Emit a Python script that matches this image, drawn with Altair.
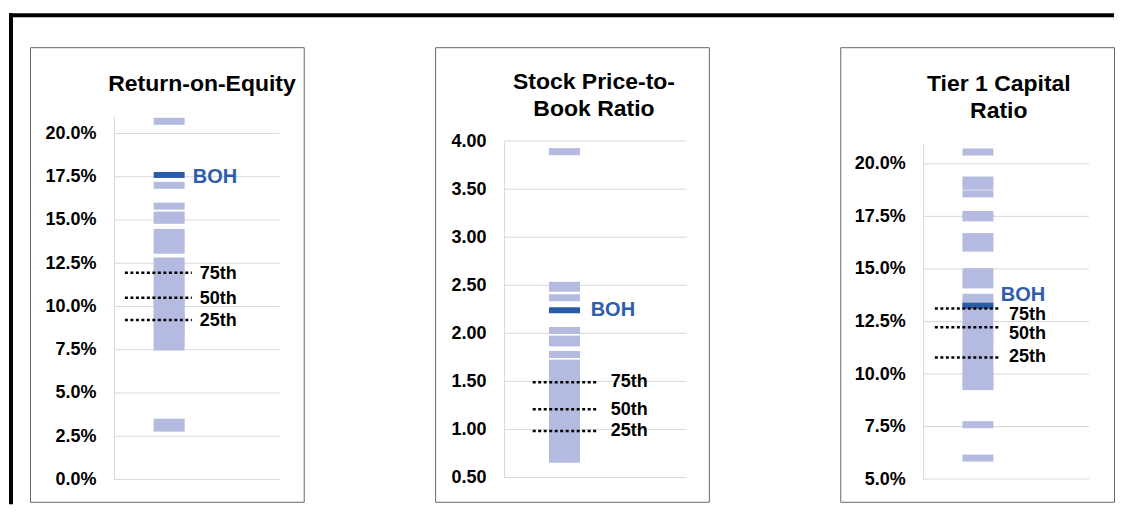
import altair as alt
import pandas as pd

FONT = "Liberation Sans"
LIGHT = "#b4bae0"
DARK = "#2a5ba8"
BOH_TXT = "#2e5eab"
GRID = "#d9d9d9"
BOX = "#666666"

# ---------------- data ----------------
pct_labels = ["75th", "50th", "25th"]

roe_title = "Return-on-Equity"
roe_ticks = [0.0, 0.025, 0.05, 0.075, 0.10, 0.125, 0.15, 0.175, 0.20]
roe_peers = [0.207, 0.170, 0.158, 0.1528, 0.1498, 0.1428, 0.1395, 0.136, 0.1325,
             0.1263, 0.123, 0.1195, 0.117, 0.114, 0.111, 0.108, 0.105, 0.103, 0.101,
             0.0985, 0.096, 0.094, 0.092, 0.090, 0.0875, 0.085, 0.082, 0.0795, 0.0766,
             0.0331, 0.0297]
roe_boh = 0.176
roe_pct = [0.1195, 0.1051, 0.0922]

pb_title = "Stock Price-to-\nBook Ratio"
pb_ticks = [0.5, 1.0, 1.5, 2.0, 2.5, 3.0, 3.5, 4.0]
pb_peers = [3.89, 2.50, 2.47, 2.37, 2.03, 1.94, 1.90, 1.78, 1.69, 1.63, 1.58, 1.54,
            1.49, 1.45, 1.40, 1.35, 1.30, 1.26, 1.21, 1.17, 1.13, 1.08, 1.04, 0.99,
            0.95, 0.90, 0.85, 0.80, 0.75, 0.69]
pb_boh = 2.24
pb_pct = [1.49, 1.21, 0.985]

t1_title = "Tier 1 Capital\nRatio"
t1_ticks = [0.05, 0.075, 0.10, 0.125, 0.15, 0.175, 0.20]
t1_peers = [0.2056, 0.1923, 0.1893, 0.1857, 0.1759, 0.1743, 0.1654, 0.1627, 0.1599,
            0.1487, 0.1455, 0.1424, 0.1365, 0.134, 0.131, 0.128, 0.125, 0.122, 0.119,
            0.116, 0.113, 0.110, 0.107, 0.104, 0.101, 0.098, 0.096, 0.094, 0.0759,
            0.060]
t1_boh = 0.1325
t1_pct = [0.1312, 0.1222, 0.1079]

# ---------------- layout (panel-local pixels) ----------------
PW, PH = 274, 455
SPACING = 131.5
L1 = dict(domain=[0, 0.21], yrange=[432.7, 69], fmt=".1%", axis_offset=-84,
          grid_x=(84.3, 249.7), col_x=139.3, dot_x=(95, 162), boh_x=163, boh_dy=2,
          pct_x=170, pct_dy=[1, 1, 1], title_x=172.2, title_y=44)
L2 = dict(domain=[0.5, 4.0], yrange=[430.7, 94], fmt=".2f", axis_offset=-69,
          grid_x=(69.3, 251.7), col_x=129.5, dot_x=(97.7, 163), boh_x=155.7, boh_dy=0,
          pct_x=175.7, pct_dy=[0, 0.5, 0.5], title_x=159, title_y=42)
L3 = dict(domain=[0.05, 0.21], yrange=[432.3, 95.7], fmt=".1%", axis_offset=-83,
          grid_x=(83.3, 249), col_x=137.8, dot_x=(94.7, 160.7), boh_x=160.7, boh_dy=-11,
          pct_x=169, pct_dy=[7, 6.5, 0], title_x=158.7, title_y=44)


def panel(title, ticks, peers, boh, pct, L, border=False):
    def ych():
        return alt.Y(
            "v:Q",
            title=None,
            scale=alt.Scale(domain=L["domain"], range=L["yrange"], nice=False, zero=False),
            axis=alt.Axis(values=ticks, format=L["fmt"], grid=False, ticks=False, tickSize=0,
                          domainColor=GRID, domainWidth=1, labelFont=FONT, labelFontSize=18,
                          labelFontWeight="bold", labelColor="#000000", labelPadding=18,
                          offset=L["axis_offset"]),
        )

    grid = alt.Chart(pd.DataFrame({"v": ticks})).mark_rule(color=GRID, strokeWidth=1).encode(
        y=ych(), x=alt.value(L["grid_x"][0]), x2=alt.value(L["grid_x"][1]))
    peer_m = alt.Chart(pd.DataFrame({"v": peers})).mark_tick(
        color=LIGHT, thickness=7, size=31, opacity=1).encode(y=ych(), x=alt.value(L["col_x"]))
    boh_df = pd.DataFrame({"v": [boh], "label": ["BOH"]})
    boh_m = alt.Chart(boh_df).mark_tick(color=DARK, thickness=6, size=31, opacity=1).encode(
        y=ych(), x=alt.value(L["col_x"]))
    boh_t = alt.Chart(boh_df).mark_text(
        align="left", baseline="middle", font=FONT, fontSize=20, fontWeight="bold",
        color=BOH_TXT, dy=L["boh_dy"]).encode(y=ych(), x=alt.value(L["boh_x"]), text="label:N")
    pct_df = pd.DataFrame({"v": pct, "label": pct_labels})
    pct_r = alt.Chart(pct_df).mark_rule(color="#000000", strokeWidth=2.5, strokeDash=[3, 2.5]).encode(
        y=ych(), x=alt.value(L["dot_x"][0]), x2=alt.value(L["dot_x"][1]))
    pct_ts = []
    for i in range(len(pct)):
        pct_ts.append(
            alt.Chart(pct_df.iloc[[i]]).mark_text(
                align="left", baseline="middle", font=FONT, fontSize=18, fontWeight="bold",
                color="#000000", dy=L["pct_dy"][i]).encode(
                y=ych(), x=alt.value(L["pct_x"]), text="label:N"))
    ttl = alt.Chart(pd.DataFrame({"t": [title]})).mark_text(
        align="center", baseline="alphabetic", font=FONT, fontSize=23, fontWeight="bold",
        color="#000000", lineBreak="\n", lineHeight=27).encode(
        x=alt.value(L["title_x"]), y=alt.value(L["title_y"]), text="t:N")
    layers = [grid, peer_m, boh_m, boh_t, pct_r] + pct_ts + [ttl]
    if border:
        right_end = 3 * PW + 2 * SPACING
        bdf = pd.DataFrame({"k": [0]})
        top = alt.Chart(bdf).mark_rect(color="#000000", strokeWidth=0).encode(
            x=alt.value(-21), x2=alt.value(right_end), y=alt.value(-34), y2=alt.value(-30))
        left = alt.Chart(bdf).mark_rect(color="#000000", strokeWidth=0).encode(
            x=alt.value(-21), x2=alt.value(-17), y=alt.value(-34), y2=alt.value(457.5))
        layers += [top, left]
    return alt.layer(*layers).properties(width=PW, height=PH)


p1 = panel(roe_title, roe_ticks, roe_peers, roe_boh, roe_pct, L1, border=True)
p2 = panel(pb_title, pb_ticks, pb_peers, pb_boh, pb_pct, L2)
p3 = panel(t1_title, t1_ticks, t1_peers, t1_boh, t1_pct, L3)

chart = alt.hconcat(p1, p2, p3, spacing=SPACING, bounds="flush").properties(
    padding={"left": 0, "top": 4, "right": 0, "bottom": 0},
    background="#ffffff",
).configure_view(stroke=BOX, strokeWidth=1)

chart.save("out.html", embed_options={"renderer": "svg", "actions": False})
